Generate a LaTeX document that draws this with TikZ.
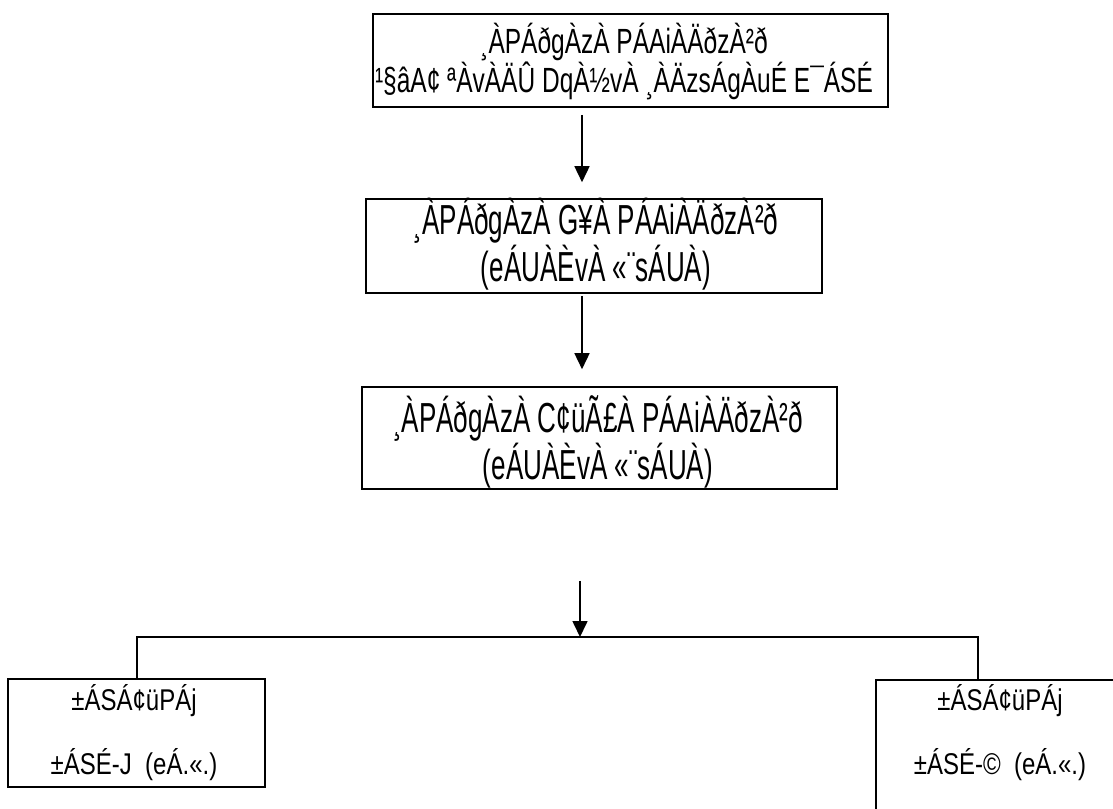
\documentclass[tikz,border=0pt]{standalone}
\usepackage{fontspec}
\setmainfont{Liberation Sans}
\newfontfamily\fonta{Liberation Sans}[FakeStretch=0.7]
\newfontfamily\fontb{Liberation Sans}[FakeStretch=0.62]
\newfontfamily\fontc{Liberation Sans}[FakeStretch=0.8]
\usetikzlibrary{arrows.meta}
\begin{document}
\begin{tikzpicture}[x=1pt,y=-1pt,
  box/.style={draw, line width=1.6pt, inner sep=0pt, rectangle},
  lbla/.style={font=\fonta\fontsize{35}{38}\selectfont, align=center, inner sep=0pt},
  lblb/.style={font=\fontb\fontsize{42}{43}\selectfont, align=center, inner sep=0pt},
  lblc/.style={font=\fontc\fontsize{30}{34}\selectfont, align=center, inner sep=0pt},
  arr/.style={line width=1.6pt, -{Triangle[width=15pt,length=16pt]}},
  conn/.style={line width=1.6pt}]
\useasboundingbox (0,0) rectangle (1113,808);
% boxes
\node[box, minimum width=515pt, minimum height=93pt] (b1) at (630.5,60.5) {};
\node[box, minimum width=456pt, minimum height=94pt] (b2) at (594,246) {};
\node[box, minimum width=475pt, minimum height=102pt] (b3) at (599.5,438) {};
\node[box, minimum width=257pt, minimum height=108pt] (lb) at (136.5,733) {};
\node[box, minimum width=257pt, minimum height=150pt] (rb) at (1004.5,755) {};
% texts
\node[lbla] (t1) at (624,62) {¸ÀPÁðgÀzÀ PÁAiÀÄðzÀ²ð\\¹§âA¢ ªÀvÀÄÛ DqÀ½vÀ ¸ÀÄzsÁgÀuÉ E¯ÁSÉ};
\node[lblb] (t2) at (596,244) {¸ÀPÁðgÀzÀ G¥À PÁAiÀÄðzÀ²ð\\(eÁUÀÈvÀ «¨sÁUÀ)};
\node[lblb] (t3) at (598,442) {¸ÀPÁðgÀzÀ C¢üÃ£À PÁAiÀÄðzÀ²ð\\(eÁUÀÈvÀ «¨sÁUÀ)};
\node[lblc] (t4) at (134,733) {±ÁSÁ¢üPÁj\\[30pt]±ÁSÉ-J\ \ (eÁ.«.)};
\node[lblc] (t5) at (1000,733) {±ÁSÁ¢üPÁj\\[30pt]±ÁSÉ-©\ \ (eÁ.«.)};
% connector helpers
\coordinate (c1) at (582,0);
\coordinate (c3) at (580,0);
\coordinate (jl) at (137,637);
\coordinate (jr) at (978,637);
% arrows
\draw[arr, shorten <=7pt, shorten >=16pt] (b1.south -| c1) -- (b2.north -| c1);
\draw[arr, shorten <=2pt, shorten >=17pt] (b2.south -| c1) -- (b3.north -| c1);
\draw[arr, shorten <=91pt] (b3.south -| c3) -- (jl -| c3);
% bracket
\draw[conn] (lb.north -| jl) -- (jl) -- (jr) -- (rb.north -| jr);
\end{tikzpicture}
\end{document}
